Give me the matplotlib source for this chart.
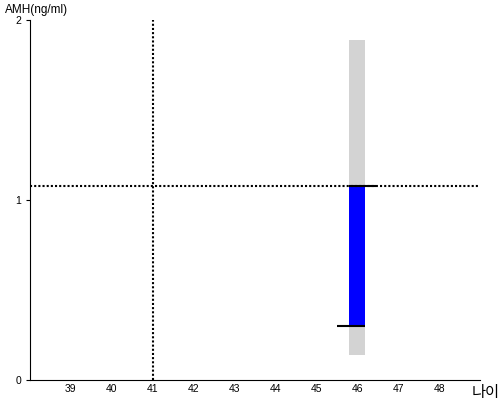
import matplotlib
matplotlib.use('Agg')
import matplotlib.pyplot as plt

plt.rcParams['font.family'] = ['Liberation Sans', 'Noto Sans CJK KR', 'DejaVu Sans']

# data
ages = [39, 40, 41, 42, 43, 44, 45, 46, 47, 48]
amh_ticks = [0, 1, 2]
my_age = 46
my_amh = 1.08
ref_age = 41
range_low, range_high = 0.14, 1.89      # gray band
normal_low, normal_high = 0.30, 1.08    # blue band

fig = plt.figure(figsize=(5, 4), dpi=100)
ax = fig.add_axes([0.06, 0.05, 0.90, 0.90])

bar_w = 0.39
ax.bar(my_age, range_high - range_low, bottom=range_low, width=bar_w, color='#d3d3d3', zorder=1)
ax.bar(my_age, normal_high - normal_low, bottom=normal_low, width=bar_w, color='#0000ff', zorder=2)
ax.hlines(normal_high, my_age - bar_w / 2, my_age + 0.46, color='black', lw=1.5, zorder=3)
ax.hlines(normal_low, my_age - 0.49, my_age + bar_w / 2, color='black', lw=1.5, zorder=3)

ax.axhline(my_amh, color='black', lw=1.5, linestyle=(0, (1, 1)), zorder=4)
ax.axvline(ref_age, color='black', lw=1.5, linestyle=(0, (1, 1)), zorder=4)

ax.set_xlim(38, 49)
ax.set_ylim(0, 2)
ax.set_xticks(ages)
ax.set_yticks(amh_ticks)
ax.tick_params(axis='both', labelsize=7.5, length=3, width=0.8)
ax.tick_params(axis='x', length=0, pad=3)
for s in ['top', 'right']:
    ax.spines[s].set_visible(False)

fig.text(0.01, 0.99, 'AMH(ng/ml)', fontsize=8.5, va='top', ha='left')
fig.text(0.999, 0.0, '나이', fontsize=11, va='bottom', ha='right')

fig.savefig('out.png', dpi=100)
